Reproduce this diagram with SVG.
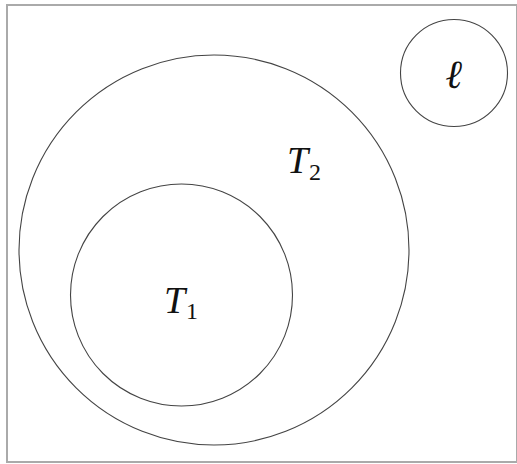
<svg xmlns="http://www.w3.org/2000/svg" width="517" height="464" viewBox="0 0 517 464">
<style>
.c{fill:none;stroke:#444;stroke-width:1.1}
.t{font-family:"Liberation Serif","DejaVu Serif",serif;font-style:italic;fill:#111}
.s{font-family:"Liberation Serif","DejaVu Serif",serif;fill:#111}
</style>
<rect x="0" y="0" width="517" height="464" fill="#fff"/>
<rect x="7" y="5" width="510" height="457" fill="none" stroke="#aaa" stroke-width="2"/>
<g id="T2">
<circle class="c" cx="214" cy="250" r="195"/>
<text class="t" x="287" y="173" font-size="38">T</text>
<text class="s" x="309" y="180" font-size="24">2</text>
</g>
<g id="T1">
<circle class="c" cx="181.5" cy="295" r="111"/>
<text class="t" x="164" y="313" font-size="38">T</text>
<text class="s" x="186" y="319" font-size="24">1</text>
</g>
<g id="ell">
<circle class="c" cx="454" cy="73" r="53.5"/>
<text class="t" x="453.5" y="88" font-size="40" text-anchor="middle">ℓ</text>
</g>
<g id="connectors"/>
</svg>
